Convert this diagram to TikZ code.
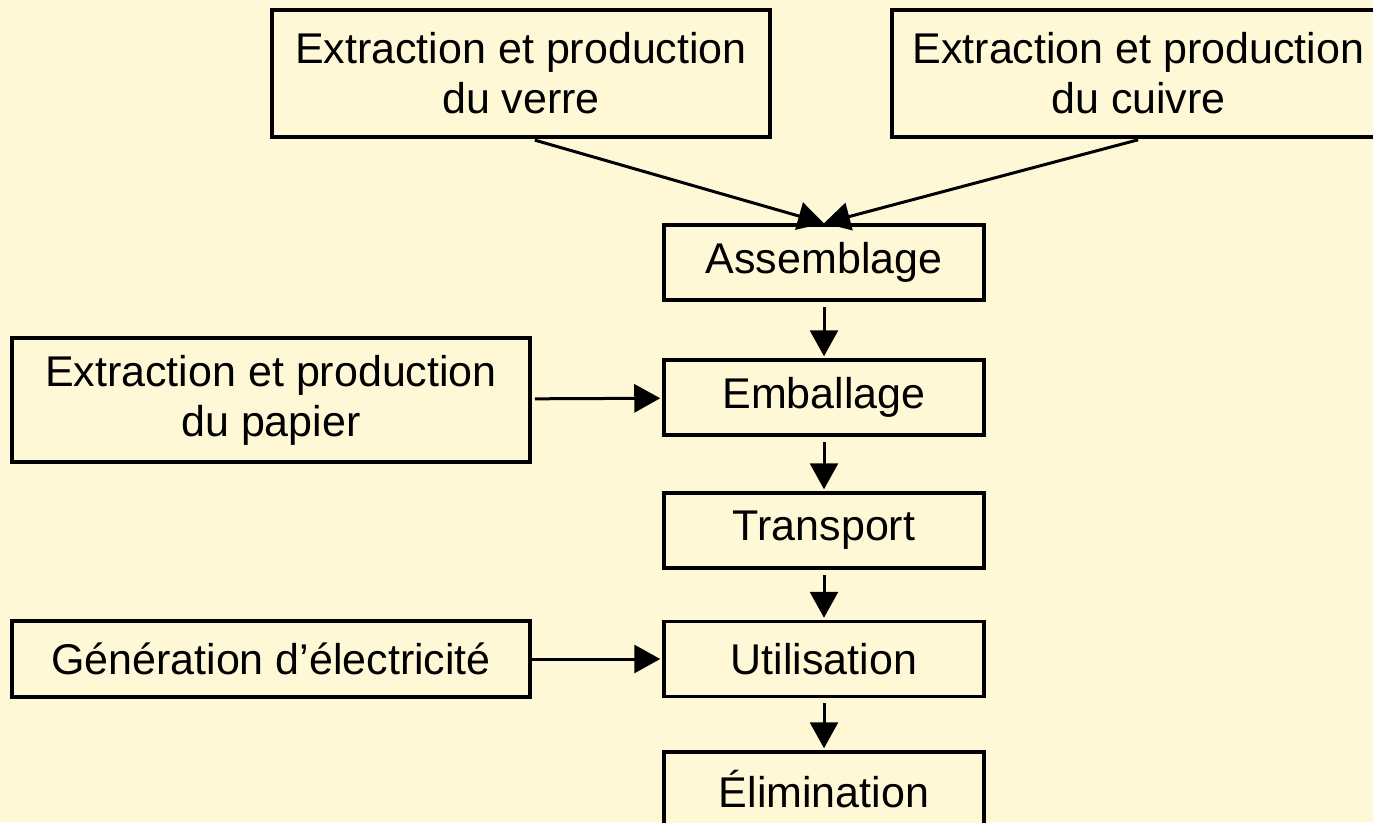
\documentclass[tikz,border=0pt]{standalone}
\usepackage{fontspec}
\setmainfont{Liberation Sans}
\usetikzlibrary{arrows.meta}
\definecolor{bgyellow}{RGB}{255,248,214}
\begin{document}
\begin{tikzpicture}[x=1pt,y=-1pt,
  box/.style={draw=black,line width=3.5pt,fill=bgyellow,inner sep=0pt,align=center,
    font=\fontsize{43}{50}\selectfont},
  conn/.style={line width=3pt,-{Triangle[length=26pt,width=28pt]}}]
\useasboundingbox (0,0) rectangle (1373,822);
\fill[bgyellow] (0,0) rectangle (1373,822);
\clip (0,0) rectangle (1373,822);
\node[box,minimum width=498pt,minimum height=127pt] (verre) at (521,73.5) {Extraction et production\\du verre};
\node[box,minimum width=493pt,minimum height=127pt] (cuivre) at (1138.5,73.5) {Extraction et production\\du cuivre};
\node[box,minimum width=320pt,minimum height=75pt] (assemblage) at (824,262.5) {Assemblage};
\node[box,minimum width=320pt,minimum height=75pt] (emballage) at (824,397.5) {Emballage};
\node[box,minimum width=320pt,minimum height=75pt] (transport) at (824,530.5) {Transport};
\node[box,minimum width=320pt,minimum height=75pt] (utilisation) at (824,659) {Utilisation};
\node[box,minimum width=320pt,minimum height=75pt] (elimination) at (824,789.5) {Élimination};
\node[box,minimum width=518pt,minimum height=124pt] (papier) at (271,400) {Extraction et production\\du papier};
\node[box,minimum width=518pt,minimum height=76pt] (generation) at (271,659) {Génération d’électricité};
\draw[conn,shorten <=5pt] ([xshift=9pt]verre.south) -- (assemblage.north);
\draw[conn,shorten <=4pt] ([xshift=3.5pt]cuivre.south) -- (assemblage.north);
\draw[conn,shorten <=5pt,shorten >=2pt] (assemblage) -- (emballage);
\draw[conn,shorten <=5pt,shorten >=2pt] (emballage) -- (transport);
\draw[conn,shorten <=5pt,shorten >=2pt] (transport) -- (utilisation);
\draw[conn,shorten <=5pt,shorten >=2pt] (utilisation) -- (elimination);
\draw[conn,shorten <=3pt,shorten >=2pt] (papier) -- (emballage);
\draw[conn,shorten >=2pt] (generation) -- (utilisation);
\end{tikzpicture}
\end{document}
